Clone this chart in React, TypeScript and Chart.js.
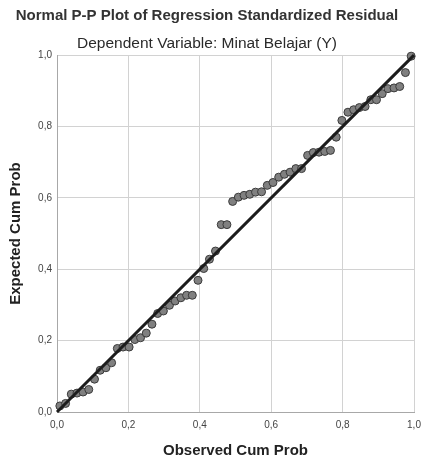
import { useEffect, useRef } from "react";
import { Chart, registerables } from "chart.js";

Chart.register(...registerables);

const titleText = "Normal P-P Plot of Regression Standardized Residual";
const subtitleText = "Dependent Variable: Minat Belajar (Y)";
const xAxisLabel = "Observed Cum Prob";
const yAxisLabel = "Expected Cum Prob";

const axisMin = 0;
const axisMax = 1;
const axisStep = 0.2;

const observedCumProb = [
  0.008, 0.024, 0.040, 0.056, 0.073, 0.089, 0.105, 0.121, 0.137, 0.153,
  0.169, 0.185, 0.202, 0.218, 0.234, 0.250, 0.266, 0.282, 0.298, 0.315,
  0.331, 0.347, 0.363, 0.379, 0.395, 0.411, 0.427, 0.444, 0.460, 0.476,
  0.492, 0.508, 0.524, 0.540, 0.556, 0.573, 0.589, 0.605, 0.621, 0.637,
  0.653, 0.669, 0.685, 0.702, 0.718, 0.734, 0.750, 0.766, 0.782, 0.798,
  0.815, 0.831, 0.847, 0.863, 0.879, 0.895, 0.911, 0.927, 0.944, 0.960,
  0.976, 0.992,
];

const expectedCumProb = [
  0.017, 0.024, 0.050, 0.053, 0.056, 0.063, 0.092, 0.117, 0.124, 0.138,
  0.178, 0.182, 0.182, 0.203, 0.208, 0.221, 0.246, 0.276, 0.283, 0.299,
  0.311, 0.320, 0.327, 0.327, 0.369, 0.402, 0.428, 0.451, 0.525, 0.525,
  0.590, 0.602, 0.607, 0.610, 0.616, 0.617, 0.635, 0.643, 0.658, 0.666,
  0.672, 0.682, 0.682, 0.719, 0.727, 0.728, 0.730, 0.733, 0.770, 0.817,
  0.840, 0.847, 0.853, 0.856, 0.875, 0.875, 0.892, 0.906, 0.908, 0.912,
  0.951, 0.997,
];

const referenceLineX = [0, 1];
const referenceLineY = [0, 1];

const fontFamily = 'Arial, "Liberation Sans", Helvetica, sans-serif';

export default function App() {
  const canvasRef = useRef<HTMLCanvasElement | null>(null);

  useEffect(() => {
    const canvas = canvasRef.current;
    if (!canvas) return;

    const points = observedCumProb.map((x, i) => ({ x, y: expectedCumProb[i] }));
    const line = referenceLineX.map((x, i) => ({ x, y: referenceLineY[i] }));

    const fmt = (v: any) => Number(v).toFixed(1).replace(".", ",");

    const chart = new Chart(canvas, {
      type: "scatter",
      data: {
        datasets: [
          {
            label: "Reference",
            data: line,
            showLine: true,
            borderColor: "#1c1c1c",
            borderWidth: 3,
            pointRadius: 0,
            fill: false,
            clip: false as any,
          },
          {
            label: "Residuals",
            data: points,
            pointRadius: 4,
            pointBackgroundColor: "#808080",
            pointBorderColor: "#3a3a3a",
            pointBorderWidth: 1,
            showLine: false,
            clip: false as any,
          },
        ],
      },
      options: {
        responsive: false,
        animation: false,
        devicePixelRatio: 1,
        layout: { padding: { left: 0, right: 7, top: 0, bottom: 0 } },
        plugins: {
          legend: { display: false },
          tooltip: { enabled: false },
          title: {
            display: true,
            text: titleText,
            color: "#333333",
            font: { family: fontFamily, size: 15, weight: "bold" },
            padding: { top: 7, bottom: 9 },
          },
          subtitle: {
            display: true,
            text: subtitleText,
            color: "#2a2a2a",
            font: { family: fontFamily, size: 15.5, weight: "normal" },
            padding: { top: 0, bottom: 2.5 },
          },
        },
        scales: {
          x: {
            type: "linear",
            min: axisMin,
            max: axisMax,
            ticks: {
              stepSize: axisStep,
              color: "#444444",
              font: { family: fontFamily, size: 10 },
              padding: 7,
              maxRotation: 0,
              callback: fmt,
            },
            grid: { color: "#d2d2d2", drawTicks: false, lineWidth: 1 },
            border: { display: true, color: "#a8a8a8" },
            title: {
              display: true,
              text: xAxisLabel,
              color: "#222222",
              font: { family: fontFamily, size: 15, weight: "bold" },
              padding: { top: 0, bottom: 2 },
            },
            afterFit: (scale: any) => {
              scale.height = 50;
              scale.paddingLeft = 0;
              scale.paddingRight = 0;
            },
          },
          y: {
            type: "linear",
            min: axisMin,
            max: axisMax,
            ticks: {
              stepSize: axisStep,
              color: "#444444",
              font: { family: fontFamily, size: 10 },
              padding: 5,
              callback: fmt,
            },
            grid: { color: "#d2d2d2", drawTicks: false, lineWidth: 1 },
            border: { display: true, color: "#a8a8a8" },
            title: {
              display: true,
              text: yAxisLabel,
              color: "#222222",
              font: { family: fontFamily, size: 15, weight: "bold" },
              padding: { top: 7, bottom: 0 },
            },
            afterFit: (scale: any) => {
              scale.width = 57;
              scale.paddingTop = 0;
              scale.paddingBottom = 0;
            },
          },
        },
      },
    });

    return () => chart.destroy();
  }, []);

  return (
    <div style={{ position: "absolute", left: 0, top: 0, width: 421, height: 462, background: "#ffffff" }}>
      <canvas ref={canvasRef} width={421} height={462} style={{ display: "block" }} />
    </div>
  );
}
